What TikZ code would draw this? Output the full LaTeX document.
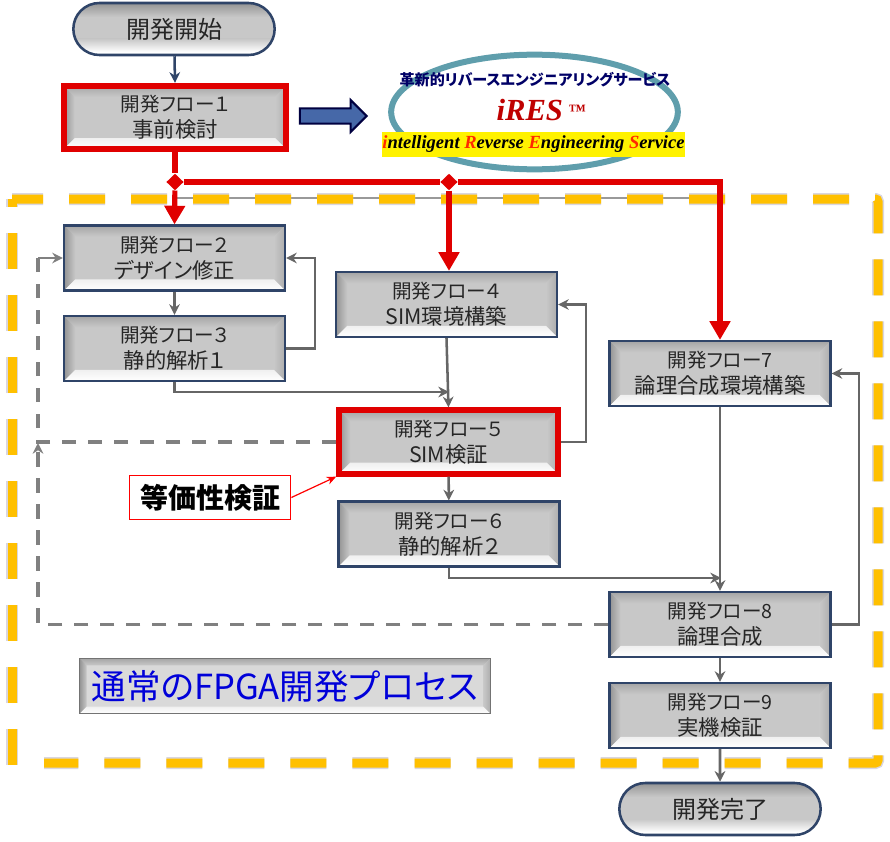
\documentclass[tikz,border=0pt]{standalone}
\usepackage{fontspec}
\setmainfont[RawFeature=+palt]{Noto Sans CJK JP}
\newfontfamily\iresfont{Liberation Serif}
\usetikzlibrary{arrows.meta,shapes.geometric,shapes.misc,shapes.arrows}
\definecolor{boxgray}{HTML}{C8C8C8}
\definecolor{framenavy}{HTML}{2F4468}
\definecolor{flowred}{HTML}{E00000}
\definecolor{linegray}{HTML}{666666}
\definecolor{dashgray}{HTML}{808080}
\definecolor{bandorange}{HTML}{FFC000}
\definecolor{halogray}{HTML}{D9D6E0}
\definecolor{ringteal}{HTML}{5F9EAC}
\definecolor{arrowblue}{HTML}{4668A8}
\definecolor{initialred}{HTML}{FF2A00}
\newcommand{\steptitle}[1]{{\fontsize{14.7}{19.5}\selectfont #1}}
\tikzset{
  bevel/.style={path picture={
    \coordinate (bbnw) at (path picture bounding box.north west);
    \coordinate (bbne) at (path picture bounding box.north east);
    \coordinate (bbsw) at (path picture bounding box.south west);
    \coordinate (bbse) at (path picture bounding box.south east);
    \shade[top color=black!35,bottom color=boxgray] (bbnw) -- (bbne) -- ([shift={(-#1,#1)}]bbne) -- ([shift={(#1,#1)}]bbnw) -- cycle;
    \shade[left color=black!42,right color=boxgray] (bbnw) -- ([shift={(#1,#1)}]bbnw) -- ([shift={(#1,-#1)}]bbsw) -- (bbsw) -- cycle;
    \shade[left color=boxgray,right color=black!32] (bbne) -- ([shift={(-#1,#1)}]bbne) -- ([shift={(-#1,-#1)}]bbse) -- (bbse) -- cycle;
    \shade[top color=black!6,bottom color=white] (bbsw) -- (bbse) -- ([shift={(-#1,-#1)}]bbse) -- ([shift={(#1,-#1)}]bbsw) -- cycle;
  }},
  pillface/.style={path picture={
    \coordinate (bbnw) at (path picture bounding box.north west);
    \coordinate (bbne) at (path picture bounding box.north east);
    \coordinate (bbsw) at (path picture bounding box.south west);
    \coordinate (bbse) at (path picture bounding box.south east);
    \shade[top color=black!42,bottom color=boxgray] (bbnw) rectangle ([shift={(0,14)}]bbne);
    \shade[top color=boxgray,bottom color=white] ([shift={(0,-16)}]bbsw) rectangle ([shift={(0,-3)}]bbse);
    \fill[white] ([shift={(0,-3)}]bbsw) rectangle (bbse);
  }},
  flowbox/.style={draw=framenavy,line width=1.9pt,fill=boxgray,bevel=11,minimum width=165.5pt,minimum height=48.5pt,
    inner sep=0pt,align=center,text=black!85,font={\fontsize{16}{19.5}\selectfont}},
  redbox/.style={flowbox,draw=flowred,line width=4.5pt,minimum width=#1,minimum height=47.5pt},
  terminal/.style={rounded rectangle,draw=framenavy,line width=1.9pt,fill=boxgray,pillface,minimum width=151pt,minimum height=39pt,
    inner sep=0pt,text=black!85,font={\fontsize{18}{20}\selectfont}},
  flowline/.style={draw=linegray,line width=1.9pt,-{Stealth[length=8pt,width=8pt,fill=dashgray]}},
  backline/.style={draw=dashgray,line width=2.4pt,dash pattern=on 11pt off 8.5pt},
  redflow/.style={draw=flowred,line width=3.9pt},
  redhead/.style={-{Triangle[length=14pt,width=15pt]}},
  junction/.style={diamond,fill=flowred,inner sep=0pt,minimum width=13pt,minimum height=12.5pt},
  bandpart/.style={line width=#1,dash pattern=on 27pt off 19.5pt,rounded corners=2pt}
}
\begin{document}
\begin{tikzpicture}[x=0.75pt,y=-0.75pt]
\useasboundingbox (0,0) rectangle (890,842);
% Frame
\draw[draw=black!40,line width=1.5pt] (175,198) -- (721,198);
\foreach \c/\w in {halogray/9pt,bandorange/6.75pt} {
  \draw[draw=\c,bandpart=\w,dash phase=3.75pt] (12,199) -- (878,199) -- (878,763) -- (44,763);
  \draw[draw=\c,bandpart=\w] (12,765) -- (12,199);
}
% Boxes
\node[terminal] (start) at (174,29) {開発開始};
\node[terminal] (finish) at (720,809) {開発完了};
\node[redbox=167pt] (f1) at (175,117.5) {\steptitle{開発フロー１}\\事前検討};
\node[redbox=164pt] (f5) at (448.5,442) {\steptitle{開発フロー５}\\SIM検証};
\foreach \name/\x/\y/\txt in {f2/174.5/258/{\steptitle{開発フロー２}\\デザイン修正},
  f3/174.5/348.5/{\steptitle{開発フロー３}\\静的解析１},
  f4/446.5/304.5/{\steptitle{開発フロー４}\\SIM環境構築},
  f6/449/534/{\steptitle{開発フロー６}\\静的解析２},
  f7/720/373.5/{\steptitle{開発フロー7}\\論理合成環境構築},
  f8/720/624.5/{\steptitle{開発フロー8}\\論理合成},
  f9/720/715.5/{\steptitle{開発フロー9}\\実機検証}} {
  \node[flowbox] (\name) at (\x,\y) {\txt};
}
% iRES
\node[ellipse,draw=ringteal,line width=4.5pt,minimum width=215pt,minimum height=86pt] (ring) at (534.5,112) {};
\node[inner sep=0pt,text=blue!40!black,font={\fontsize{11.3}{13}\selectfont\bfseries}] (restitle) at (535,80) {革新的リバースエンジニアリングサービス};
\node[inner sep=0pt,text=red!75!black,font={\iresfont\fontsize{23}{25}\selectfont\bfseries\itshape}] (resname) at (541,110) {iRES\,{\fontsize{13}{13}\selectfont\raisebox{3pt}{™}}};
\node[fill=yellow,inner sep=0pt,minimum width=226pt,minimum height=18.5pt,font={\iresfont\fontsize{13.9}{15}\selectfont\bfseries\itshape}] (resband) at (533.5,144.5)
  {\textcolor{initialred}{i}ntelligent \textcolor{initialred}{R}everse \textcolor{initialred}{E}ngineering \textcolor{initialred}{S}ervice};
\node[single arrow,draw=blue!25!black,fill=arrowblue,line width=1.5pt,inner xsep=0pt,inner ysep=4.9pt,minimum height=50pt,
  single arrow head extend=6.4pt] (resarrow) at (329.5,116) {};
% Labels
\node[draw=red,fill=white,line width=1.1pt,minimum width=121pt,minimum height=33pt,inner sep=0pt,
  font={\fontsize{21}{24}\selectfont\bfseries}] (eqv) at (210,497.5) {等価性検証};
\node[draw=black!55,line width=1.1pt,fill=boxgray!70,bevel=7,minimum width=308pt,minimum height=41.5pt,inner sep=0pt,
  text=blue!85!black,font={\fontsize{25.9}{30}\selectfont}] (normal) at (285,686) {通常のFPGA開発プロセス};
% Points
\node[junction] (j1) at (175,182) {};
\node[junction] (j2) at (449,182) {};
\coordinate (m45) at (449,392);
\coordinate (m68) at (721,578);
\coordinate (c23) at (315,258);
\coordinate (c54) at (586,304.5);
\coordinate (c87) at (859,373.5);
\coordinate (c52) at (38,258);
\coordinate (c85) at (38,443);
% Red flow
\draw[redflow] (f1.south) -- (j1);
\draw[redflow] (j1) -- (j2);
\draw[redflow,redhead] (j1) -- (f2.north);
\draw[redflow,redhead] (j2) -- (j2 |- f4.north);
\draw[redflow,redhead] (j2) -| (f7.north);
% Gray flow
\draw[draw=framenavy,line width=1.9pt,-{Stealth[length=8pt,width=8pt,fill=arrowblue]}] (start) -- (f1.north);
\draw[flowline] (f2) -- (f3);
\draw[flowline] (f3.south) |- (m45);
\draw[flowline] (f4.south) -- (f5.north);
\draw[flowline] (f5) -- (f6);
\draw[flowline] (f6.south) |- (m68);
\draw[flowline] (f7) -- (f8);
\draw[flowline] (f8) -- (f9);
\draw[flowline] (f9) -- (finish);
\draw[flowline] (f3.east) -| (c23) -- (f2.east);
\draw[flowline] (f5.east) -| (c54) -- (f4.east);
\draw[flowline] (f8.east) -| (c87) -- (f7.east);
% Back flow
\draw[backline] (f5.west) -| (c52);
\draw[flowline,draw=dashgray] (c52) -- (f2.west);
\draw[backline,-{Stealth[length=8pt,width=8pt]}] (f8.west) -| (c85);
% Callout
\draw[draw=red,line width=0.9pt,-{Stealth[length=7pt,width=6pt]}] (eqv.east) -- (f5.south west);
\end{tikzpicture}
\end{document}
